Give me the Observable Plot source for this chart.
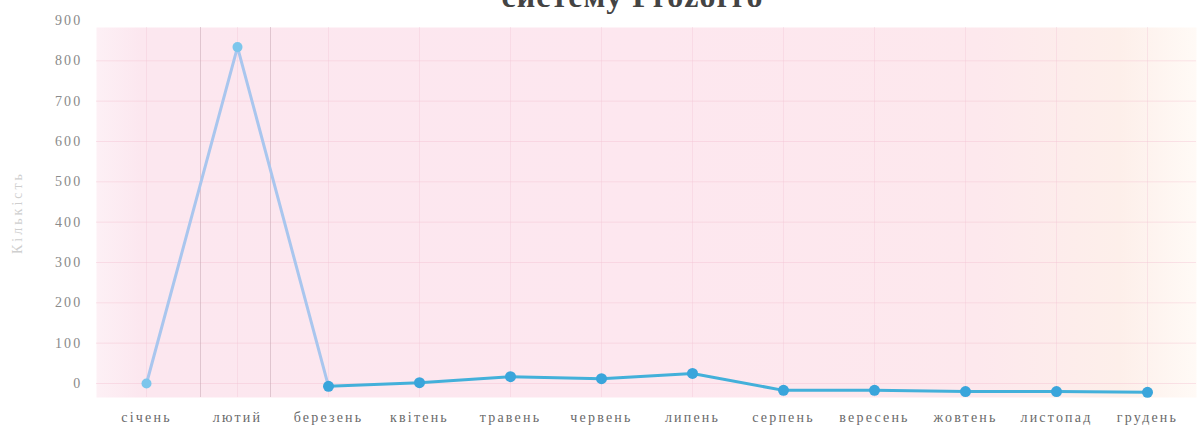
<!DOCTYPE html>
<html>
<head>
<meta charset="utf-8">
<script src="https://cdn.jsdelivr.net/npm/d3@7"></script>
<script src="https://cdn.jsdelivr.net/npm/@observablehq/plot@0.6"></script>
<style>
  html, body { margin: 0; padding: 0; background: #fff; }
  #wrap { position: relative; width: 1201px; height: 427px; overflow: hidden; }
  #title { position: absolute; top: -20px; left: 0; width: 1201px; padding-left: 64px; box-sizing: border-box;
           text-align: center; font: bold 32px/32px "Liberation Serif", serif; color: #444; letter-spacing: 1px; }
  svg { display: block; }
  svg text { letter-spacing: 2.2px; }
</style>
</head>
<body>
<div id="wrap">
  <div id="chart"></div>
  <div id="title">систему Prozorro</div>
</div>
<script>
const months = ["січень","лютий","березень","квітень","травень","червень","липень","серпень","вересень","жовтень","листопад","грудень"];
const values = [0, 834, -7, 2, 17, 12, 25, -17, -17, -20, -20, -22];
const yTicks = [0,100,200,300,400,500,600,700,800,900];
const yGrid = [0,100,200,300,400,500,600,700,800];
const yLabel = "Кількість";

const data = months.map((m, i) => ({month: m, value: values[i], i}));
const early = data.filter(d => d.i <= 2);
const late = data.filter(d => d.i >= 2);

const plot = Plot.plot({
  width: 1201,
  height: 427,
  marginTop: 27,
  marginBottom: 30,
  marginLeft: 96,
  marginRight: 5,
  style: {fontFamily: "'Liberation Serif', serif", fontSize: "14px", color: "#888", background: "transparent"},
  x: {type: "point", domain: months, padding: 0.5, label: null},
  y: {domain: [0, 900], range: [383, 20], label: null},
  marks: [
    Plot.frame({fill: "url(#bgGrad)", stroke: null}),
    Plot.gridY(yGrid, {stroke: "#f2bfd0", strokeOpacity: 0.4}),
    Plot.gridX(months, {stroke: "#f2c4d4", strokeOpacity: 0.35}),
    Plot.ruleX(["лютий"], {dx: -37, stroke: "#c9a9b4", strokeOpacity: 0.55}),
    Plot.ruleX(["лютий"], {dx: 33, stroke: "#c9a9b4", strokeOpacity: 0.55}),
    Plot.axisY(yTicks, {tickSize: 0, tickPadding: 14, fill: "#8a8a8a", fontSize: 14,
      label: yLabel, labelAnchor: "center", labelArrow: "none", labelOffset: 84}),
    Plot.axisX({tickSize: 0, tickPadding: 15, fill: "#6a6a6a", fontSize: 14, label: null}),
    Plot.line(early, {x: "month", y: "value", stroke: "#a9c6ee", strokeWidth: 3}),
    Plot.line(late, {x: "month", y: "value", stroke: "#43b0da", strokeWidth: 3}),
    Plot.dot(data.filter(d => d.i <= 1), {x: "month", y: "value", r: 5, fill: "#7cc6ec", stroke: "none"}),
    Plot.dot(data.filter(d => d.i >= 2), {x: "month", y: "value", r: 5.5, fill: "#3aa5db", stroke: "none"})
  ]
});

const ns = "http://www.w3.org/2000/svg";
const defs = document.createElementNS(ns, "defs");
const grad = document.createElementNS(ns, "linearGradient");
grad.setAttribute("id", "bgGrad");
grad.setAttribute("x1", "0"); grad.setAttribute("x2", "1");
grad.setAttribute("y1", "0"); grad.setAttribute("y2", "0");
[["0", "#fdf0f5"], ["0.04", "#fce7ef"], ["0.5", "#fde7ef"], ["0.8", "#fde8ed"], ["0.93", "#fdefea"], ["1", "#fffaf6"]].forEach(([o, c]) => {
  const s = document.createElementNS(ns, "stop");
  s.setAttribute("offset", o); s.setAttribute("stop-color", c);
  grad.appendChild(s);
});
defs.appendChild(grad);
plot.insertBefore(defs, plot.firstChild);
plot.querySelectorAll("[aria-label='y-axis label'] text, [aria-label='y-axis label']").forEach(el => {
  el.setAttribute("fill", "#cfcfcf");
  el.setAttribute("font-size", "14");
  el.style.letterSpacing = "3px";
});
document.getElementById("chart").appendChild(plot);
</script>
</body>
</html>
